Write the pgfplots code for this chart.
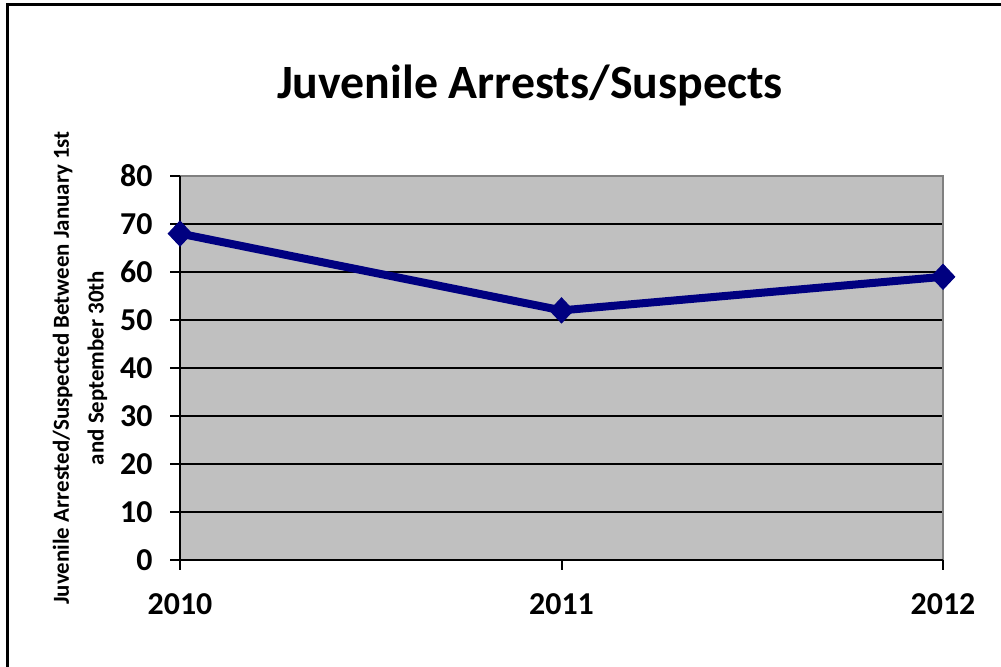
\documentclass[border=0pt]{standalone}
\usepackage{pgfplots}
\pgfplotsset{compat=1.18}
\usepackage{fontspec}
\setmainfont{Carlito}
\definecolor{plotgray}{HTML}{C0C0C0}
\definecolor{navy}{HTML}{000080}
\begin{document}
\begin{tikzpicture}[x=1bp,y=1bp]
\useasboundingbox (0,0) rectangle (1001,667);
\draw[line width=3bp] (7,-10) rectangle (1015,662);
\node[font=\bfseries\fontsize{48}{56}\selectfont] at (530,582) {Juvenile Arrests/Suspects};
\begin{axis}[
  at={(180bp,107bp)}, anchor=origin,
  scale only axis, width=763bp, height=384bp,
  xmin=0, xmax=2, ymin=0, ymax=80,
  xtick={0,1,2}, xticklabels={2010,2011,2012},
  ytick={0,10,...,80},
  axis background/.style={fill=plotgray},
  axis line style={draw=none},
  ymajorgrids, grid style={black, line width=2bp},
  tick align=outside, major tick length=10bp,
  tick style={black, line width=2bp},
  xtick pos=bottom, ytick pos=left,
  ticklabel style={font=\bfseries\fontsize{32}{38}\selectfont},
  /pgf/number format/assume math mode=true,
  xticklabel style={yshift=-20bp},
  yticklabel style={xshift=-14bp},
  ylabel={Juvenile Arrested/Suspected Between January 1st\\and September 30th},
  ylabel style={font=\bfseries\fontsize{23}{35}\selectfont, align=center, at={(axis description cs:-0.131,0.5)}, anchor=center, rotate=0},
  clip=false,
]
\draw[draw=gray, line width=2bp] (axis cs:0,80) -- (axis cs:2,80) -- (axis cs:2,0);
\draw[black, line width=2.5bp] (axis cs:0,80) -- (axis cs:0,0) -- (axis cs:2,0);
\addplot[navy, line width=8bp, mark=diamond*, mark size=12.5bp, mark options={xscale=1.25, line width=1bp}] coordinates {(0,68) (1,52) (2,59)};
\end{axis}
\end{tikzpicture}
\end{document}
